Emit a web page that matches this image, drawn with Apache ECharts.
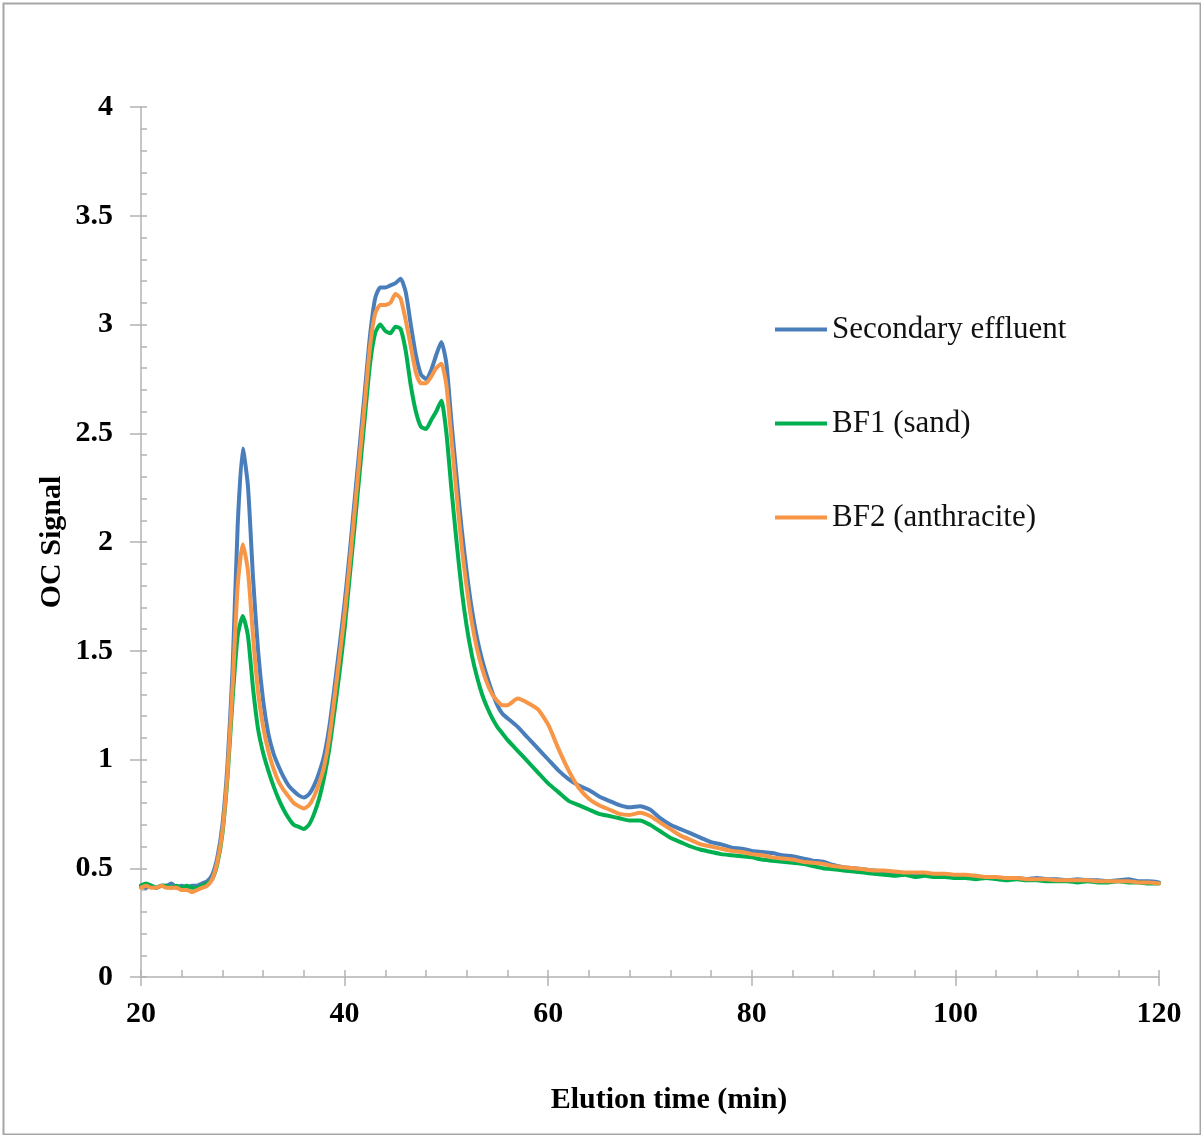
<!DOCTYPE html>
<html>
<head>
<meta charset="utf-8">
<script src="https://cdn.jsdelivr.net/npm/echarts@6/dist/echarts.min.js"></script>
<style>html,body{margin:0;padding:0;background:#fff;}#chart{width:1201px;height:1135px;}</style>
</head>
<body>
<div id="chart"></div>
<script>
const seriesNames = ['Secondary effluent', 'BF1 (sand)', 'BF2 (anthracite)'];
const xTicks = [20, 40, 60, 80, 100, 120];
const yTicks = [0, 0.5, 1, 1.5, 2, 2.5, 3, 3.5, 4];

const times = [
  20,20.5,21,21.5,22,22.5,23,23.5,24,24.5,25,25.5,26,26.5,27,
  27.5,28,28.5,29,29.5,30,30.5,31,31.5,32,32.5,33,33.5,34,34.5,35,35.5,36,36.5,37,37.5,38,38.5,39,39.5,
  40,40.5,41,41.5,42,42.5,43,43.5,44,44.5,45,45.5,46,46.5,47,47.5,48,48.5,49,49.5,
  50,50.5,51,51.5,52,52.5,53,53.5,54,54.5,55,55.5,56,
  57,58,59,60,61,62,63,64,65,66,67,68,69,70,71,72,73,74,75,76,77,78,79,80,
  81,82,83,84,85,86,87,88,89,90,91,92,93,94,95,96,97,98,99,100,
  101,102,103,104,105,106,107,108,109,110,111,112,113,114,115,116,117,118,119,120
];

const secondaryEffluent = [
  .42,.41,.42,.41,.42,.42,.43,.41,.42,.41,.42,.42,.43,.44,.47,
  .55,.70,.98,1.42,2.08,2.43,2.26,1.84,1.50,1.27,1.12,1.03,.97,.92,.88,.855,.835,.825,.84,.88,.94,1.02,1.15,1.33,1.52,
  1.72,1.95,2.2,2.45,2.7,2.95,3.12,3.17,3.17,3.18,3.19,3.21,3.15,3.0,2.86,2.77,2.75,2.79,2.86,2.92,
  2.82,2.55,2.3,2.06,1.86,1.69,1.56,1.46,1.38,1.31,1.25,1.21,1.19,
  1.15,1.10,1.05,1.00,.95,.91,.88,.86,.83,.81,.79,.78,.785,.77,.73,.70,.68,.66,.64,.62,.61,.595,.59,.58,
  .575,.57,.56,.555,.545,.535,.53,.515,.505,.50,.495,.49,.485,.48,.475,.47,.47,.465,.47,.465,
  .46,.465,.455,.455,.45,.455,.45,.455,.45,.45,.445,.45,.445,.445,.44,.445,.45,.44,.44,.435
];

const bf1Sand = [
  .42,.43,.42,.41,.42,.42,.41,.42,.41,.42,.41,.41,.42,.43,.45,
  .52,.66,.92,1.28,1.57,1.66,1.57,1.33,1.14,1.03,.95,.88,.82,.77,.73,.70,.69,.68,.70,.75,.82,.92,1.05,1.22,1.40,
  1.60,1.84,2.08,2.33,2.58,2.82,2.96,3.0,2.97,2.96,2.99,2.98,2.88,2.72,2.6,2.53,2.52,2.56,2.6,2.65,
  2.5,2.24,2.0,1.78,1.61,1.48,1.38,1.30,1.24,1.19,1.15,1.12,1.09,
  1.04,.99,.94,.89,.85,.81,.79,.77,.75,.74,.73,.72,.72,.70,.67,.64,.62,.60,.585,.575,.565,.56,.555,.55,
  .54,.535,.53,.525,.52,.51,.50,.495,.49,.485,.48,.475,.47,.465,.47,.46,.465,.46,.46,.455,
  .455,.45,.455,.45,.445,.45,.445,.445,.44,.44,.44,.435,.44,.435,.435,.44,.435,.435,.43,.43
];

const bf2Anthracite = [
  .41,.42,.41,.41,.42,.41,.41,.41,.40,.40,.39,.40,.41,.42,.45,
  .53,.67,.94,1.34,1.80,1.99,1.87,1.57,1.31,1.15,1.04,.96,.90,.86,.83,.80,.785,.775,.79,.83,.89,.97,1.10,1.28,1.47,
  1.67,1.9,2.15,2.4,2.65,2.9,3.05,3.09,3.09,3.1,3.14,3.12,3.02,2.9,2.78,2.73,2.73,2.76,2.8,2.82,
  2.72,2.47,2.22,1.98,1.79,1.63,1.51,1.42,1.35,1.30,1.27,1.25,1.25,
  1.28,1.26,1.23,1.16,1.05,.95,.87,.82,.79,.77,.75,.745,.755,.74,.71,.68,.65,.63,.61,.60,.59,.58,.575,.565,
  .56,.55,.545,.54,.53,.525,.52,.51,.505,.50,.495,.49,.49,.485,.48,.48,.48,.475,.475,.47,
  .47,.465,.46,.46,.455,.455,.45,.45,.45,.445,.445,.445,.445,.44,.44,.44,.44,.435,.435,.43
];

const colors = ['#4a7ebb', '#00b050', '#f79646'];
const valueSets = [secondaryEffluent, bf1Sand, bf2Anthracite];

const FONT = '"Liberation Serif", "Times New Roman", serif';
const axisGray = '#b3b3b3';

const chart = echarts.init(document.getElementById('chart'), null, {renderer: 'canvas'});

function baseX(extra) {
  return Object.assign({
    type: 'value', min: 20, max: 120, interval: 20, gridIndex: 0, position: 'bottom',
    splitLine: {show: false}
  }, extra);
}
function baseY(extra) {
  return Object.assign({
    type: 'value', min: 0, max: 4, interval: 0.5, gridIndex: 0, position: 'left',
    splitLine: {show: false}
  }, extra);
}

const option = {
  animation: false,
  backgroundColor: '#ffffff',
  grid: {left: 141, right: 42, top: 107, bottom: 158, containLabel: false},
  xAxis: [
    baseX({
      axisLine: {show: true, lineStyle: {color: axisGray, width: 1.5}},
      axisTick: {show: true, inside: false, length: 9, lineStyle: {color: axisGray, width: 1.5}},
      axisLabel: {show: true, margin: 22, fontFamily: FONT, fontWeight: 'bold', fontSize: 30, color: '#000',
        formatter: v => xTicks.includes(v) ? String(v) : ''}
    }),
    baseX({
      axisLine: {show: false},
      axisTick: {show: true, inside: true, length: 7, lineStyle: {color: axisGray, width: 1.5}},
      minorTick: {show: true, splitNumber: 5, length: 7, lineStyle: {color: axisGray, width: 1.5}},
      axisLabel: {show: false}
    })
  ],
  yAxis: [
    baseY({
      axisLine: {show: true, lineStyle: {color: axisGray, width: 1.5}},
      axisTick: {show: true, inside: false, length: 11, lineStyle: {color: axisGray, width: 1.5}},
      axisLabel: {show: true, margin: 28, fontFamily: FONT, fontWeight: 'bold', fontSize: 30, color: '#000',
        formatter: v => yTicks.includes(v) ? String(v) : ''}
    }),
    baseY({
      axisLine: {show: false},
      axisTick: {show: true, inside: true, length: 6, lineStyle: {color: axisGray, width: 1.5}},
      minorTick: {show: true, splitNumber: 5, length: 6, lineStyle: {color: axisGray, width: 1.5}},
      axisLabel: {show: false}
    })
  ],
  legend: seriesNames.map((name, i) => ({
    data: [name],
    orient: 'vertical',
    left: 775,
    top: 314 + i * 94,
    padding: 0,
    icon: 'rect',
    itemWidth: 52,
    itemHeight: 4,
    itemGap: 0,
    selectedMode: false,
    textStyle: {fontFamily: FONT, fontSize: 31, color: '#111', padding: [0, 0, 0, 0]}
  })),
  series: seriesNames.map((name, i) => ({
    name: name,
    type: 'line',
    xAxisIndex: 0,
    yAxisIndex: 0,
    showSymbol: false,
    symbol: 'none',
    smooth: 0.2,
    color: colors[i],
    lineStyle: {color: colors[i], width: 4, join: 'round', cap: 'round'},
    data: times.map((t, k) => [t, valueSets[i][k]]),
    z: 2 + i
  })),
  graphic: [
    {type: 'rect', left: 1, top: 1, silent: true,
      shape: {x: 0, y: 0, width: 1197, height: 1131},
      style: {fill: 'none', stroke: '#a6a6a6', lineWidth: 2}},
    {type: 'text', x: 52, y: 542, rotation: Math.PI / 2, silent: true,
      style: {text: 'OC Signal', font: 'bold 30px ' + FONT, fill: '#000', textAlign: 'center', textVerticalAlign: 'middle'}},
    {type: 'text', x: 669, y: 1100, silent: true,
      style: {text: 'Elution time (min)', font: 'bold 30px ' + FONT, fill: '#000', textAlign: 'center', textVerticalAlign: 'middle'}}
  ]
};
chart.setOption(option);
</script>
</body>
</html>
